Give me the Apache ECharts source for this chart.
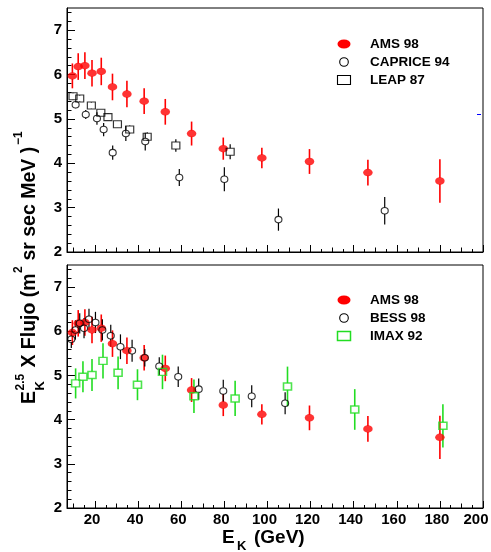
<!DOCTYPE html>
<html><head><meta charset="utf-8">
<script src="https://cdn.jsdelivr.net/npm/echarts@6/dist/echarts.min.js"></script>
<style>html,body{margin:0;padding:0;background:#fff}#c{width:491px;height:552px}</style>
</head><body><div id="c"></div>
<script>
// ---------- data ----------
const amsE    = [9.5, 12.2, 15.3, 18.6, 22.9, 28.1, 34.8, 42.8, 52.6, 64.8, 79.5, 97.4, 119.5, 146.6, 180.0];
const amsFlux = [5.97, 6.18, 6.20, 6.03, 6.07, 5.72, 5.56, 5.40, 5.16, 4.67, 4.33, 4.12, 4.04, 3.79, 3.60];
const amsErr  = [0.28, 0.30, 0.30, 0.30, 0.31, 0.30, 0.30, 0.29, 0.29, 0.27, 0.25, 0.23, 0.28, 0.29, 0.49];

const capriceE    = [11.0, 15.7, 20.9, 24.0, 28.2, 34.3, 43.3, 59.1, 80.0, 105.1, 154.4];
const capriceFlux = [5.32, 5.10, 5.01, 4.76, 4.24, 4.67, 4.49, 3.68, 3.64, 2.73, 2.93];
const capriceErr  = [0.08, 0.10, 0.14, 0.15, 0.16, 0.17, 0.20, 0.19, 0.27, 0.25, 0.31];

const leapE    = [9.8, 12.9, 18.3, 22.7, 26.0, 30.4, 36.1, 44.2, 57.5, 82.7];
const leapFlux = [5.51, 5.46, 5.30, 5.14, 5.04, 4.88, 4.76, 4.60, 4.40, 4.26];
const leapErr  = [0.07, 0.07, 0.07, 0.08, 0.08, 0.08, 0.09, 0.10, 0.14, 0.17];

const bessE    = [9.0, 10.9, 12.9, 14.9, 17.2, 20.2, 23.4, 27.3, 31.8, 37.2, 43.1, 49.8, 58.6, 68.1, 79.5, 92.7, 108.2];
const bessFlux = [5.82, 6.03, 6.18, 6.07, 6.27, 6.20, 6.03, 5.90, 5.65, 5.56, 5.40, 5.21, 4.97, 4.69, 4.65, 4.53, 4.37];
const bessErr  = [0.20, 0.22, 0.23, 0.23, 0.24, 0.24, 0.24, 0.25, 0.28, 0.25, 0.20, 0.20, 0.23, 0.24, 0.25, 0.25, 0.25];

const imaxE    = [11.0, 14.4, 18.6, 23.7, 30.7, 39.7, 51.3, 65.9, 85.0, 109.3, 140.5, 181.4];
const imaxFlux = [4.82, 4.97, 5.01, 5.33, 5.06, 4.79, 5.08, 4.53, 4.48, 4.75, 4.23, 3.86];
const imaxErr  = [0.34, 0.35, 0.36, 0.40, 0.37, 0.35, 0.39, 0.38, 0.40, 0.45, 0.46, 0.49];

const xTickLabels = [20, 40, 60, 80, 100, 120, 140, 160, 180, 200];
const yTickLabels = [2, 3, 4, 5, 6, 7];
const topLegend = ['AMS 98', 'CAPRICE 94', 'LEAP 87'];
const botLegend = ['AMS 98', 'BESS 98', 'IMAX 92'];

// ---------- helpers ----------
const FONT = '"Liberation Sans", Arial, Helvetica, sans-serif';
const X_MIN = 7, X_MAX = 200, Y_MIN = 2, Y_MAX = 7.5;
const xMid = [], xMinor = [], yMinor = [];
for (let v = 10; v < 200; v += 20) xMid.push(v);
for (let v = 15; v < 200; v += 10) xMinor.push(v);
for (let i = 11; i < 38; i++) { if (i % 5 !== 0) yMinor.push(i / 5); }

const labelBase = { fontFamily: FONT, fontWeight: 'bold', fontSize: 15, color: '#000' };
function xAx(grid, ticks, len, main, labels) {
  return {
    type: 'value', gridIndex: grid, min: X_MIN, max: X_MAX, position: 'bottom',
    axisLine: { show: main, onZero: false, lineStyle: { color: '#000', width: 1 } },
    axisTick: { show: true, inside: true, length: len, customValues: ticks, lineStyle: { color: '#000', width: 1 } },
    axisLabel: labels ? {
      show: true, customValues: xTickLabels, margin: 4, color: '#000', fontFamily: FONT, fontWeight: 'bold', fontSize: 15,
      formatter: function (v) { return v === X_MAX ? '{e|' + v + '}' : '{n|' + v + '}'; },
      rich: { n: Object.assign({ padding: [0, 6, 0, 0] }, labelBase), e: Object.assign({ padding: [0, 14, 0, 0] }, labelBase) }
    } : { show: false },
    splitLine: { show: false }
  };
}
function yAx(grid, ticks, len, main) {
  return {
    type: 'value', gridIndex: grid, min: Y_MIN, max: Y_MAX, position: 'left',
    axisLine: { show: main, onZero: false, lineStyle: { color: '#000', width: 1 } },
    axisTick: { show: true, inside: true, length: len, customValues: ticks, lineStyle: { color: '#000', width: 1 } },
    axisLabel: main ? { show: true, customValues: yTickLabels, margin: 5, color: '#000', fontFamily: FONT, fontWeight: 'bold', fontSize: 15 } : { show: false },
    splitLine: { show: false }
  };
}

function errSeries(xs, ys, es, xi, yi, color, lw, gap) {
  return {
    type: 'custom', xAxisIndex: xi, yAxisIndex: yi, silent: true,
    encode: { x: 0, y: [1, 2, 3] },
    data: xs.map((x, i) => [x, ys[i] - es[i], ys[i] + es[i], ys[i]]),
    renderItem: function (params, api) {
      const p = api.coord([api.value(0), api.value(3)]);
      const lo = api.coord([api.value(0), api.value(1)]);
      const hi = api.coord([api.value(0), api.value(2)]);
      const st = { stroke: color, lineWidth: lw };
      return { type: 'group', children: [
        { type: 'line', shape: { x1: p[0], y1: hi[1], x2: p[0], y2: p[1] - gap }, style: st },
        { type: 'line', shape: { x1: p[0], y1: p[1] + gap, x2: p[0], y2: lo[1] }, style: st }
      ] };
    }
  };
}
function markSeries(xs, ys, xi, yi, symbol, size, itemStyle) {
  return {
    type: 'scatter', xAxisIndex: xi, yAxisIndex: yi, symbol: symbol, symbolSize: size,
    itemStyle: itemStyle, emphasis: { disabled: true }, silent: true,
    data: xs.map((x, i) => [x, ys[i]])
  };
}

const RED = '#ff0000', GREEN = '#22dd22', BLACK = '#000000';
const redStyle = { color: RED, borderWidth: 0 };
const hollowBlack = { color: 'rgba(0,0,0,0)', borderColor: BLACK, borderWidth: 1.1 };
const hollowGreen = { color: 'rgba(0,0,0,0)', borderColor: GREEN, borderWidth: 1.5 };

const series = [
  // top panel
  errSeries(amsE, amsFlux, amsErr, 0, 0, RED, 1.6, 3),
  markSeries(amsE, amsFlux, 0, 0, 'circle', [9.5, 7.5], redStyle),
  errSeries(capriceE, capriceFlux, capriceErr, 0, 0, BLACK, 1.2, 3.3),
  markSeries(capriceE, capriceFlux, 0, 0, 'circle', [7, 6.5], hollowBlack),
  errSeries(leapE, leapFlux, leapErr, 0, 0, BLACK, 1.2, 3.5),
  markSeries(leapE, leapFlux, 0, 0, 'rect', [8, 7], hollowBlack),
  // bottom panel
  errSeries(amsE, amsFlux, amsErr, 3, 2, RED, 1.6, 3),
  markSeries(amsE, amsFlux, 3, 2, 'circle', [9.5, 7.5], redStyle),
  errSeries(bessE, bessFlux, bessErr, 3, 2, BLACK, 1.2, 3.3),
  markSeries(bessE, bessFlux, 3, 2, 'circle', [7, 6.5], hollowBlack),
  errSeries(imaxE, imaxFlux, imaxErr, 3, 2, GREEN, 1.6, 3.5),
  markSeries(imaxE, imaxFlux, 3, 2, 'rect', [8, 7], hollowGreen)
];

function txt(x, y, text, size, extra) {
  return Object.assign({ type: 'text', x: x, y: y, silent: true,
    style: { text: text, fill: '#000', font: 'bold ' + size + 'px ' + FONT, align: 'left', verticalAlign: 'middle', textAlign: 'left', textVerticalAlign: 'middle' } }, extra || {});
}
function legend(x0, y0, names, kinds) {
  const out = [];
  const dy = 18;
  kinds.forEach((k, i) => {
    const cy = y0 + i * dy;
    if (k === 'ell') out.push({ type: 'circle', x: x0, y: cy, scaleX: 1.45, shape: { cx: 0, cy: 0, r: 4.5 }, style: { fill: RED }, silent: true });
    if (k === 'circ') out.push({ type: 'circle', shape: { cx: x0, cy: cy, r: 4.3 }, style: { fill: 'none', stroke: BLACK, lineWidth: 1.1 }, silent: true });
    if (k === 'sq') out.push({ type: 'rect', shape: { x: x0 - 6.5, y: cy - 4.5, width: 13, height: 9 }, style: { fill: 'none', stroke: BLACK, lineWidth: 1.1 }, silent: true });
    if (k === 'gsq') out.push({ type: 'rect', shape: { x: x0 - 6.5, y: cy - 4.5, width: 13, height: 9 }, style: { fill: 'none', stroke: GREEN, lineWidth: 1.5 }, silent: true });
    out.push(txt(x0 + 26, cy, names[i], 13.5));
  });
  return out;
}

const graphics = [].concat(
  legend(344, 44, topLegend, ['ell', 'circ', 'sq']),
  legend(344, 300, botLegend, ['ell', 'circ', 'gsq']),
  [
    // y axis title (rotated)
    { type: 'group', x: 30, y: 404, rotation: Math.PI / 2, silent: true, children: [
      txt(0, 0, 'E', 19.5),
      txt(13.5, 10, 'K', 13),
      txt(13.5, -9, '2.5', 12),
      txt(31, 0, ' X Flujo (m', 19.5),
      txt(131, -11, '2', 12),
      txt(138, 0, ' sr sec MeV )', 19.5),
      txt(259, -11, '\u22121', 12)
    ] },
    // x axis title
    txt(222, 538, 'E', 19),
    txt(237, 546, 'K', 13),
    txt(254, 538, '(GeV)', 19),
    { type: 'line', shape: { x1: 477, y1: 114.5, x2: 481, y2: 114.5 }, style: { stroke: '#0000ff', lineWidth: 1 }, silent: true }
  ]
);

const option = {
  animation: false,
  backgroundColor: '#ffffff',
  grid: [
    { left: 67, top: 8, width: 416, height: 244, show: true, borderColor: '#000', borderWidth: 1, backgroundColor: 'transparent', containLabel: false, outerBoundsMode: 'none' },
    { left: 67, top: 265, width: 416, height: 243, show: true, borderColor: '#000', borderWidth: 1, backgroundColor: 'transparent', containLabel: false, outerBoundsMode: 'none' }
  ],
  xAxis: [
    xAx(0, xTickLabels, 7, true, false),
    xAx(0, xMid, 4.5, false, false),
    xAx(0, xMinor, 3, false, false),
    xAx(1, xTickLabels, 7, true, true),
    xAx(1, xMid, 4.5, false, false),
    xAx(1, xMinor, 3, false, false)
  ],
  yAxis: [
    yAx(0, yTickLabels, 8, true),
    yAx(0, yMinor, 4.5, false),
    yAx(1, yTickLabels, 8, true),
    yAx(1, yMinor, 4.5, false)
  ],
  series: series,
  graphic: graphics
};
const chart = echarts.init(document.getElementById('c'), null, { renderer: 'canvas', width: 491, height: 552 });
chart.setOption(option);
</script>
</body></html>
